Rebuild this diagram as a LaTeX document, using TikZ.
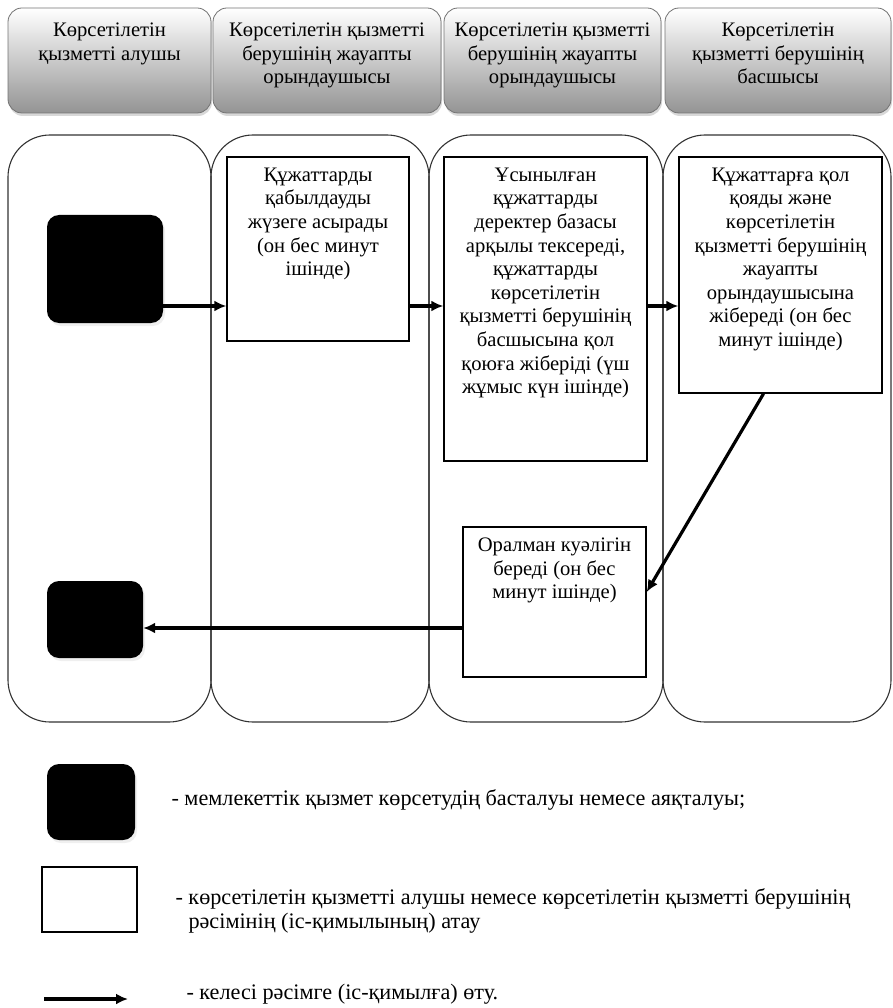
\documentclass[tikz,border=0pt]{standalone}
\usepackage{fontspec}
\setmainfont{Liberation Serif}
\usetikzlibrary{shadows, arrows.meta}
\newcommand{\txtsize}{\fontsize{20.6pt}{23.6pt}\selectfont}
\newcommand{\legsize}{\fontsize{22.2pt}{24pt}\selectfont}

\begin{document}
\begin{tikzpicture}[>={Latex[length=12pt, width=11pt]}, x=1pt, y=-1pt,
    head/.style={draw=black!55, line width=0.8pt, rounded corners=14pt, top color=white, bottom color=black!42, inner sep=0pt,
        drop shadow={shadow xshift=1pt, shadow yshift=-3pt, fill=black!30}},
    headtxt/.style={anchor=north, align=center, yshift=-12pt, font=\txtsize},
    lane/.style={draw=black!80, line width=1.1pt, rounded corners=42pt},
    term/.style={fill=black, rounded corners=12pt, inner sep=0pt,
        drop shadow={shadow xshift=2pt, shadow yshift=-3pt, fill=black!12}},
    proc/.style={draw, line width=1.4pt, fill=white, inner sep=0pt},
    proctxt/.style={anchor=north, align=center, yshift=-8pt, font=\txtsize},
    legtxt/.style={anchor=west, align=left, font=\legsize},
    flow/.style={->, line width=3.2pt}]
    \useasboundingbox (0,0) rectangle (893,1008);

    % 1. Tiêu đề các cột
    \node[head, minimum width=203pt, minimum height=105pt,
        label={[headtxt]north:{Көрсетілетін\\қызметті алушы}}] (h1) at (109.5,60.5) {};
    \node[head, minimum width=228pt, minimum height=105pt,
        label={[headtxt]north:{Көрсетілетін қызметті\\берушінің жауапты\\орындаушысы}}] (h2) at (327,60.5) {};
    \node[head, minimum width=217pt, minimum height=105pt,
        label={[headtxt]north:{Көрсетілетін қызметті\\берушінің жауапты\\орындаушысы}}] (h3) at (552.5,60.5) {};
    \node[head, minimum width=226pt, minimum height=105pt,
        label={[headtxt]north:{Көрсетілетін\\қызметті берушінің\\басшысы}}] (h4) at (778,60.5) {};

    % 2. Các làn
    \draw[lane] (8,135) rectangle (211,722);
    \draw[lane] (211,135) rectangle (429,722);
    \draw[lane] (429,135) rectangle (663,722);
    \draw[lane] (663,135) rectangle (891,722);

    % 3. Các bước
    \node[term, minimum width=116pt, minimum height=108pt] (start) at (105,269) {};
    \node[proc, minimum width=182pt, minimum height=184pt,
        label={[proctxt]north:{Құжаттарды\\қабылдауды\\жүзеге асырады\\(он бес минут\\ішінде)}}] (box1) at (318,249) {};
    \node[proc, minimum width=203pt, minimum height=304pt,
        label={[proctxt]north:{Ұсынылған\\құжаттарды\\деректер базасы\\арқылы тексереді,\\құжаттарды\\көрсетілетін\\қызметті берушінің\\басшысына қол\\қоюға жіберіді (үш\\жұмыс күн ішінде)}}] (box2) at (545.5,309) {};
    \node[proc, minimum width=203pt, minimum height=236pt,
        label={[proctxt]north:{Құжаттарға қол\\қояды және\\көрсетілетін\\қызметті берушінің\\жауапты\\орындаушысына\\жібереді (он бес\\минут ішінде)}}] (box3) at (780.5,275) {};
    \node[proc, minimum width=183pt, minimum height=150pt,
        label={[proctxt]north:{Оралман куәлігін\\береді (он бес\\минут ішінде)}}] (box4) at (554.5,602) {};
    \node[term, minimum width=96pt, minimum height=77pt] (finish) at (95,619.5) {};

    % 4. Mũi tên
    \coordinate (rowA) at (0,306);
    \coordinate (rowB) at (0,628);
    \draw[flow] (start.east |- rowA) -- (box1.west |- rowA);
    \draw[flow] (box1.east |- rowA) -- (box2.west |- rowA);
    \draw[flow] (box2.east |- rowA) -- (box3.west |- rowA);
    \draw[flow] ([xshift=-17pt]box3.south) -- ([yshift=10pt]box4.east);
    \draw[flow] (box4.west |- rowB) -- (finish.east |- rowB);

    % 5. Chú thích
    \node[term, minimum width=88pt, minimum height=76pt] (lgterm) at (91,802) {};
    \node[proc, minimum width=95pt, minimum height=65pt] (lgproc) at (89.5,899.5) {};
    \coordinate (lgA) at (44,999);
    \coordinate (lgB) at (128,999);
    \draw[flow] (lgA) -- (lgB);
    \node[legtxt] (lt1) at (168,800) {- мемлекеттік қызмет көрсетудің басталуы немесе аяқталуы;};
    \node[legtxt] (lt2) at (172,911) {- көрсетілетін қызметті алушы немесе көрсетілетін қызметті берушінің\\\hspace*{13pt}рәсімінің (іс-қимылының) атау};
    \node[legtxt] (lt3) at (183,994) {- келесі рәсімге (іс-қимылға) өту.};
\end{tikzpicture}
\end{document}
